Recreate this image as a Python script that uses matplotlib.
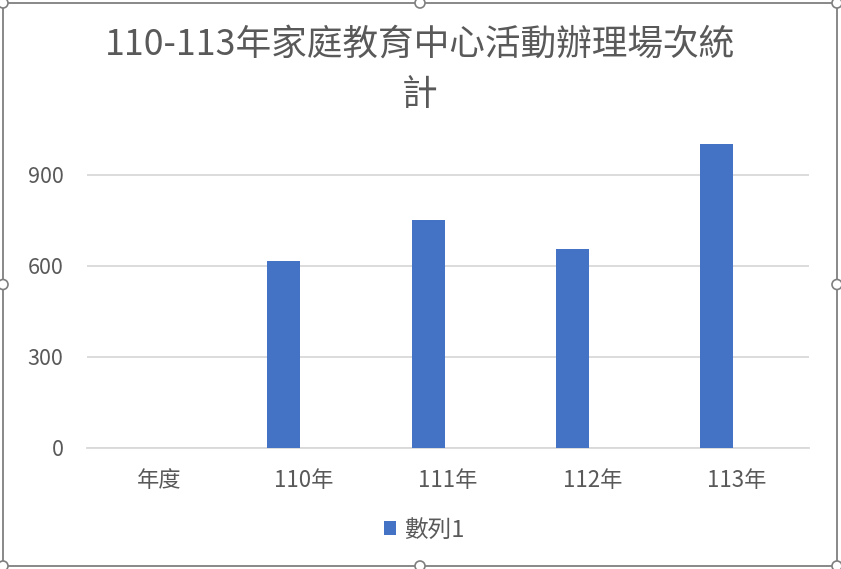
import numpy as np
import matplotlib
matplotlib.use("Agg")
import matplotlib.pyplot as plt
from matplotlib.patches import Rectangle, Circle, Patch

plt.rcParams['font.family'] = ['Noto Sans CJK TC', 'DejaVu Sans']

# ---- data ----
categories = ["年度", "110年", "111年", "112年", "113年"]
values = [np.nan, 617, 751, 655, 1000]
series_name = "數列1"
yticks = [0, 300, 600, 900]
title_line1 = "110-113年家庭教育中心活動辦理場次統"
title_line2 = "計"

# ---- style ----
W, H, DPI = 841, 569, 100
BAR_COLOR = "#4472C4"
TEXT_COLOR = "#595959"
GRID_COLOR = "#D9D9D9"
BORDER_COLOR = "#7F7F7F"

fig = plt.figure(figsize=(W / DPI, H / DPI), dpi=DPI)
fig.patch.set_facecolor("white")

# plot area in pixel coords
left_px, right_px = 87, 809
bottom_px, top_px = 447.7, 144.4
ax = fig.add_axes([left_px / W, 1 - bottom_px / H,
                   (right_px - left_px) / W, (bottom_px - top_px) / H])

x = np.arange(len(categories))
bar_offset = -0.138
bar_width = 0.228
ax.bar(x + bar_offset, values, width=bar_width, color=BAR_COLOR, zorder=3,
       label=series_name)

ax.set_xlim(-0.5, len(categories) - 0.5)
ax.set_ylim(0, 1000)
ax.set_yticks(yticks)
ax.set_yticklabels([str(v) for v in yticks])
ax.set_xticks(x)
ax.set_xticklabels(categories)
ax.tick_params(axis="y", length=0, labelsize=15.5, colors=TEXT_COLOR, pad=17)
ax.tick_params(axis="x", length=0, labelsize=16, colors=TEXT_COLOR, pad=15)
ax.yaxis.grid(True, color=GRID_COLOR, linewidth=1.3, zorder=0)
ax.set_axisbelow(True)
for s in ["top", "right", "left"]:
    ax.spines[s].set_visible(False)
ax.spines["bottom"].set_color(GRID_COLOR)
ax.spines["bottom"].set_linewidth(1.3)
ax.spines["bottom"].set_zorder(1)

# title
fig.text(420 / W, 1 - 45 / H, title_line1, ha="center", va="center",
         fontsize=25.7, color=TEXT_COLOR)
fig.text(420 / W, 1 - 95 / H, title_line2, ha="center", va="center",
         fontsize=25.7, color=TEXT_COLOR)

# legend
handle = Patch(facecolor=BAR_COLOR, edgecolor="none")
fig.legend([handle], [series_name], loc="center",
           bbox_to_anchor=(424 / W, 1 - 530 / H), frameon=False,
           fontsize=17, labelcolor=TEXT_COLOR, handlelength=0.5,
           handleheight=0.5, handletextpad=0.35, borderpad=0)

# chart border with selection handles
bx0, by0, bx1, by1 = 3, 3, 837, 566
fig.patches.append(Rectangle((bx0 / W, 1 - by1 / H), (bx1 - bx0) / W,
                             (by1 - by0) / H, transform=fig.transFigure,
                             fill=False, edgecolor=BORDER_COLOR, linewidth=1.3,
                             zorder=5))
mx, my = (bx0 + bx1) / 2, (by0 + by1) / 2
for hx, hy in [(bx0, by0), (mx, by0), (bx1, by0), (bx0, my), (bx1, my),
               (bx0, by1), (mx, by1), (bx1, by1)]:
    fig.patches.append(Circle((hx / DPI, (H - hy) / DPI), 5 / DPI,
                              transform=fig.dpi_scale_trans,
                              facecolor="white", edgecolor=BORDER_COLOR,
                              linewidth=1.2, zorder=6))

fig.savefig("out.png", dpi=DPI)
